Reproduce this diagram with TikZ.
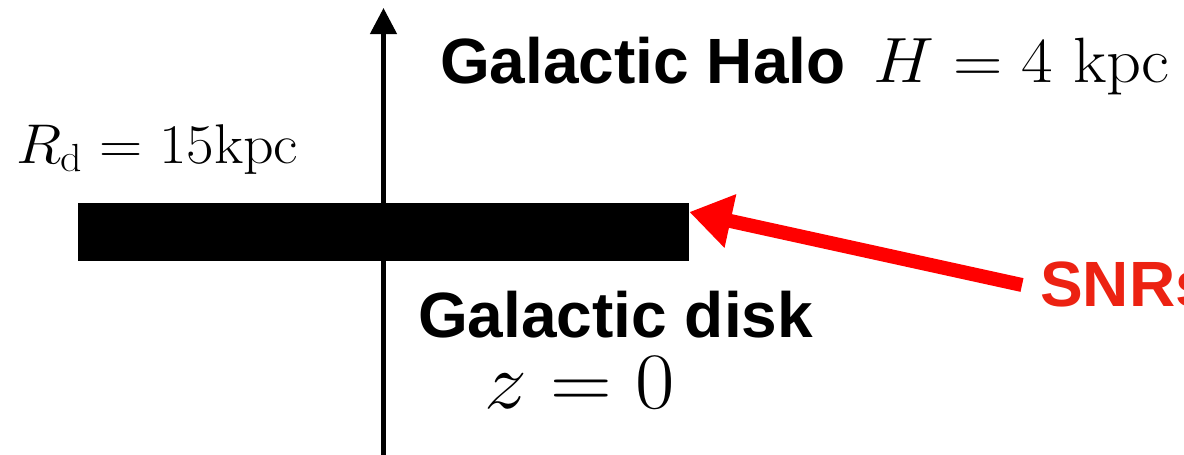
\RequirePackage{fix-cm}
\documentclass[tikz,border=0pt]{standalone}
\usepackage{fontspec}
\setsansfont{Liberation Sans}
\usetikzlibrary{arrows.meta}
\definecolor{snrred}{RGB}{236,34,18}
\tikzset{
  lbl/.style={inner sep=0pt, anchor=base west},
  boldlbl/.style={lbl, font=\fontsize{64}{70}\selectfont\sffamily\bfseries},
}
\newcommand{\wide}[1]{\scalebox{1.07}[1]{#1}}
\begin{document}
\begin{tikzpicture}[x=1pt,y=-1pt]
\useasboundingbox (0,0) rectangle (1184,455);
% disk
\node[fill=black, inner sep=0pt, minimum width=611pt, minimum height=58pt, anchor=north west] (disk) at (78,203) {};
% axis
\coordinate (axbot) at (383.5,458);
\coordinate (axtop) at (383.5,8);
\draw[line width=4.5pt, -{Triangle[width=26pt,length=26pt]}] (axbot) -- (axtop);
% labels
\node[boldlbl] (halo) at (440,83) {Galactic Halo};
\node[lbl, font=\fontsize{64}{70}\selectfont] (hval) at (873,82) {\wide{$H = 4\ \mathrm{kpc}$}};
\node[lbl, font=\fontsize{56}{62}\selectfont] (rd) at (16,163) {\wide{$R_{\mathrm{d}} = 15\mathrm{kpc}$}};
\node[boldlbl] (gdisk) at (418,337) {Galactic disk};
\node[lbl, font=\fontsize{80}{88}\selectfont] (zval) at (484,408) {\wide{$z = 0$}};
\node[boldlbl, text=snrred] (snr) at (1040,306) {SNRs};
% red arrow
\coordinate (snrtail) at (1022,285);
\draw[red, line width=14pt, -{Triangle[width=52pt,length=42pt]}] (snrtail) -- (disk.east |- 0,212);
\end{tikzpicture}
\end{document}
